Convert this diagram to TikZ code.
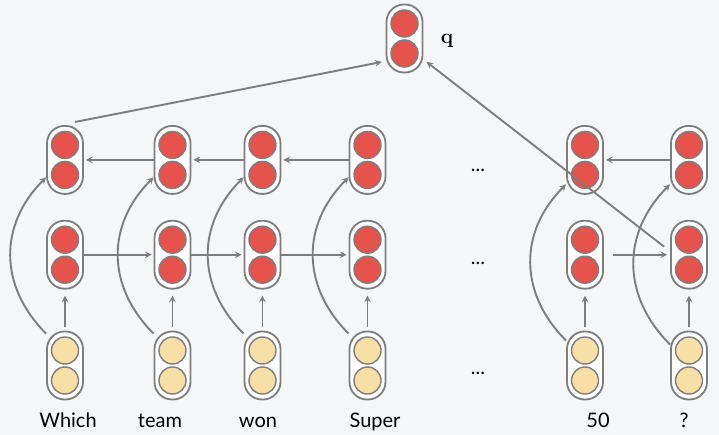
\documentclass[tikz,border=0pt]{standalone}
\usepackage[no-math]{fontspec}
\setmainfont{Lato}
\usepackage{tikz}
\usetikzlibrary{calc,positioning,arrows}
\definecolor{bgcol}{RGB}{245,246,248}
\definecolor{linegray}{RGB}{125,125,125}
\definecolor{hidred}{RGB}{230,82,76}
\definecolor{embyellow}{RGB}{248,223,166}
\tikzstyle{cell} = [rectangle, rounded corners=17.5pt,
    minimum width=36pt, minimum height=68pt, inner sep=0pt,
    draw=linegray, line width=1.8pt, fill=white]
\tikzstyle{hidden} = [cell, path picture={
    \filldraw[draw=linegray, fill=hidred, line width=1.4pt] ([yshift=15pt]path picture bounding box.center) circle (13.5pt);
    \filldraw[draw=linegray, fill=hidred, line width=1.4pt] ([yshift=-15pt]path picture bounding box.center) circle (13.5pt);}]
\tikzstyle{embed} = [cell, path picture={
    \filldraw[draw=linegray, fill=embyellow, line width=1.4pt] ([yshift=15pt]path picture bounding box.center) circle (13.5pt);
    \filldraw[draw=linegray, fill=embyellow, line width=1.4pt] ([yshift=-15pt]path picture bounding box.center) circle (13.5pt);}]
\tikzstyle{word} = [anchor=base, font=\fontsize{20}{24}\selectfont]
\tikzstyle{arrow} = [draw=linegray, line width=1.9pt, ->, >=stealth]
\tikzstyle{uparrow} = [arrow, shorten >=6pt, shorten <=4pt]
\tikzstyle{skip} = [arrow, out=135, in=225, looseness=1.1]
\begin{document}
\begin{tikzpicture}[x=1pt, y=-1pt]
    \fill[bgcol] (0,0) rectangle (719,435);
    \useasboundingbox (0,0) rectangle (719,435);
    % word embeddings
    \node (e1) [embed] at (65,365.5) {};
    \node (e2) [embed] at (172.5,365.5) {};
    \node (e3) [embed] at (262.5,365.5) {};
    \node (e4) [embed] at (367.5,365.5) {};
    \node (e5) [embed] at (585,365.5) {};
    \node (e6) [embed] at (689,365.5) {};
    % forward states
    \node (f1) [hidden, above=41pt of e1] {};
    \node (f2) [hidden, above=41pt of e2] {};
    \node (f3) [hidden, above=41pt of e3] {};
    \node (f4) [hidden, above=41pt of e4] {};
    \node (f5) [hidden, above=41pt of e5] {};
    \node (f6) [hidden, above=41pt of e6] {};
    % backward states
    \node (b1) [hidden, above=25pt of f1] {};
    \node (b2) [hidden, above=25pt of f2] {};
    \node (b3) [hidden, above=25pt of f3] {};
    \node (b4) [hidden, above=25pt of f4] {};
    \node (b5) [hidden, above=25pt of f5] {};
    \node (b6) [hidden, above=25pt of f6] {};
    % question vector
    \node (q) [hidden] at (404.5,38.5) {};
    \node (qlabel) [anchor=base, font=\fontsize{22}{24}\selectfont] at (447,44) {$\mathbf{q}$};
    % dots and words
    \node (dotsb) [word] at (478,172) {...};
    \node (dotsf) [word] at (478,265) {...};
    \node (dotse) [word] at (478,374) {...};
    \node (wWhich) [word] at (68,427) {Which};
    \node (wteam) [word] at (160,427) {team};
    \node (wwon) [word] at (258,427) {won};
    \node (wSuper) [word] at (375,427) {Super};
    \node (wfifty) [word] at (598,427) {50};
    \node (wmark) [word] at (684,427) {?};
    % up arrows
    \draw [uparrow] (e1) -- (f1);
    \draw [uparrow] (e2) -- (f2);
    \draw [uparrow] (e3) -- (f3);
    \draw [uparrow] (e4) -- (f4);
    \draw [uparrow] (e5) -- (f5);
    \draw [uparrow] (e6) -- (f6);
    % forward and backward arrows
    \draw [arrow, shorten >=2pt] (f1) -- (f2);
    \draw [arrow, shorten >=2pt] (f2) -- (f3);
    \draw [arrow, shorten >=2pt] (f3) -- (f4);
    \draw [arrow, shorten >=3pt, shorten <=9pt] (f5) -- (f6);
    \draw [arrow, shorten >=2pt] (b2) -- (b1);
    \draw [arrow, shorten >=2pt] (b3) -- (b2);
    \draw [arrow, shorten >=2pt] (b4) -- (b3);
    \draw [arrow, shorten >=2pt] (b6) -- (b5);
    % skip arrows
    \draw [skip] ([yshift=-3pt]e1.north west) to ($(b1.west)!0.5!(b1.south west)$);
    \draw [skip] ([yshift=-3pt]e2.north west) to ($(b2.west)!0.5!(b2.south west)$);
    \draw [skip] ([yshift=-3pt]e3.north west) to ($(b3.west)!0.5!(b3.south west)$);
    \draw [skip] ([yshift=-3pt]e4.north west) to ($(b4.west)!0.5!(b4.south west)$);
    \draw [skip] ([yshift=-10pt]e5.north west) to ($(b5.west)!0.7!(b5.south west)$);
    \draw [skip] ([yshift=-14pt]e6.north west) to ($(b6.west)!0.7!(b6.south west)$);
    % into q
    \draw [arrow, shorten >=4pt] ([xshift=-9pt,yshift=3pt]b1.north east) -- ($(q.west)!0.65!(q.south west)$);
    \draw [arrow, shorten >=4pt] ([xshift=-6pt,yshift=8pt]f6.west) -- ($(q.east)!0.6!(q.south east)$);
\end{tikzpicture}
\end{document}
